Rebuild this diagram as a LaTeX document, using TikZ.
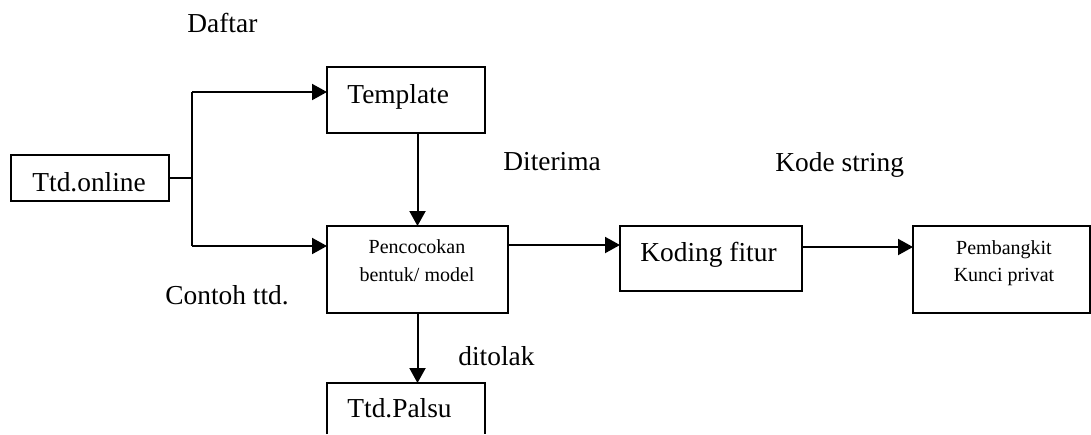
\documentclass[tikz,border=0pt]{standalone}
\usepackage{fontspec}
\setmainfont{Liberation Serif}
\usetikzlibrary{arrows.meta}
\begin{document}
\begin{tikzpicture}[x=0.5pt,y=-0.5pt,
  box/.style={draw, line width=1pt, inner sep=0pt, outer sep=0pt},
  arr/.style={line width=1pt, -{Triangle[length=7.5pt,width=8pt]}},
  ln/.style={line width=1pt},
  big/.style={font=\fontsize{13.7}{16}\selectfont, inner sep=0pt},
  small/.style={font=\fontsize{10}{12}\selectfont, inner sep=0pt}]
\useasboundingbox (0,0) rectangle (1091,434);
% boxes
\node[box, minimum width=79pt, minimum height=23pt] (online) at (90,178) {};
\node[box, minimum width=79pt, minimum height=33pt] (template) at (406,100) {};
\node[box, minimum width=90.5pt, minimum height=43.5pt] (match) at (417.5,269.5) {};
\node[box, minimum width=91pt, minimum height=32.5pt] (koding) at (711,258.5) {};
\node[box, minimum width=88.5pt, minimum height=43.5pt] (kunci) at (1001.5,269.5) {};
\node[inner sep=0pt, outer sep=0pt, minimum width=79pt, minimum height=25.5pt] (palsu) at (406,408.5) {};
\draw[ln] (palsu.south west) -- (palsu.north west) -- (palsu.north east) -- (palsu.south east);
% texts
\node[big, anchor=base west] (tonline) at (32,191) {Ttd.online};
\node[big, anchor=base west] (ttemplate) at (347,103) {Template};
\node[small, anchor=base] (tmatch1) at (417,253) {Pencocokan};
\node[small, anchor=base] (tmatch2) at (417,281) {bentuk/ model};
\node[big, anchor=base west] (tkoding) at (640,261) {Koding fitur};
\node[small, anchor=base] (tkunci1) at (1004,254) {Pembangkit};
\node[small, anchor=base] (tkunci2) at (1004,281) {Kunci privat};
\node[big, anchor=base west] (tpalsu) at (347,417) {Ttd.Palsu};
% labels
\node[big, anchor=base west] (ldaftar) at (187,32) {Daftar};
\node[big, anchor=base west] (lditerima) at (503,170) {Diterima};
\node[big, anchor=base west] (lkode) at (775,171) {Kode string};
\node[big, anchor=base west] (lcontoh) at (165,304) {Contoh ttd.};
\node[big, anchor=base west] (ltolak) at (458,365) {ditolak};
% connectors
\coordinate (jt) at (192,92);
\coordinate (jb) at (192,246);
\draw[ln] (online.east) -- (online.east -| jt);
\draw[ln] (jt) -- (jb);
\draw[arr] (jt) -- (jt -| template.west);
\draw[arr] (jb) -- (jb -| match.west);
\draw[arr] (match.north |- template.south) -- (match.north);
\draw[arr] ([yshift=12.25pt]match.east) -- ([yshift=12.25pt]match.east -| koding.west);
\draw[arr] ([yshift=5.75pt]koding.east) -- ([yshift=5.75pt]koding.east -| kunci.west);
\draw[arr] (match.south) -- (match.south |- palsu.north);
\end{tikzpicture}
\end{document}
